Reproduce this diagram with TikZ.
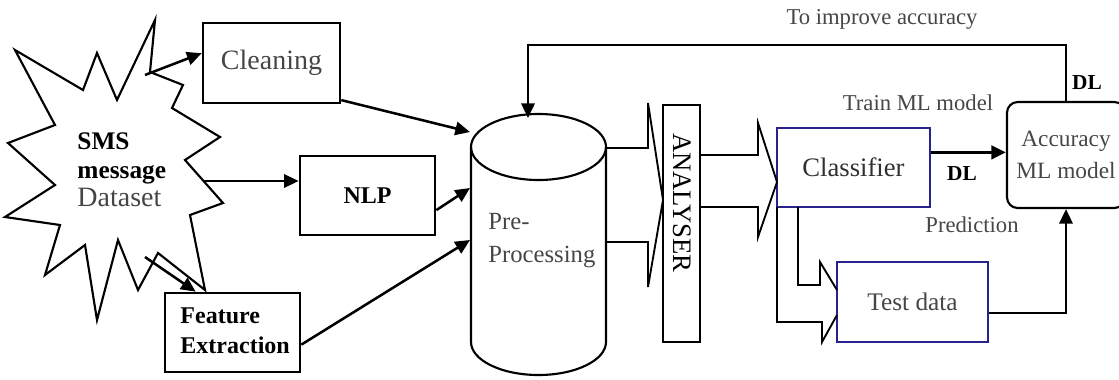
\documentclass[tikz,border=0pt]{standalone}
\usepackage{fontspec}
\setmainfont{Liberation Serif}
\usetikzlibrary{arrows.meta}

\definecolor{boxblue}{RGB}{40,35,140}
\definecolor{txtgray}{RGB}{70,70,70}

\tikzset{every picture/.style={line width=1.5pt}}
\tikzset{
  plainbox/.style={draw, line width=2pt, inner sep=0pt},
  bluebox/.style={draw=boxblue, line width=1.8pt, inner sep=0pt},
  arr/.style={-{Triangle[length=11pt,width=10pt]}, line width=1.9pt},
  blk/.style={line width=1.4pt, line join=miter},
}

\begin{document}
\begin{tikzpicture}[x=0.75pt,y=0.75pt,yscale=-1,xscale=1]
\useasboundingbox (0,0) rectangle (1119,379);

%Shape: Star [SMS dataset]
\draw [line width=1.6pt, line join=miter] (155,20) -- (150,72) -- (183,85) -- (172,108) -- (220,137) -- (185,160) -- (223,203) -- (190,215) -- (205,290) -- (158,253) -- (138,290) -- (118,240) -- (97,320) -- (85,245) -- (45,275) -- (60,225) -- (5,217) -- (55,185) -- (8,143) -- (55,125) -- (15,50) -- (83,90) -- (97,53) -- (117,100) -- cycle ;
% Text Node
\node (sms) [anchor=west, align=left, font=\fontsize{19}{21.4}\selectfont] at (72,170) {\textbf{SMS}\\\textbf{message}\\\textcolor{txtgray}{\fontsize{21}{21.4}\selectfont Dataset}};

%Shape: Rectangles
\node (clean) [plainbox, minimum width=102.75pt, minimum height=60pt, text=txtgray, font=\fontsize{21}{24}\selectfont] at (271.5,63) {Cleaning};
\node (nlp) [plainbox, minimum width=101.25pt, minimum height=59.25pt, font=\fontsize{18}{20}\selectfont\bfseries] at (367.5,195.5) {NLP};
\node (feat) [plainbox, minimum width=101.25pt, minimum height=59.25pt] at (232.5,332.5) {};
\node (featlbl) [anchor=west, align=left, font=\fontsize{18}{22.5}\selectfont\bfseries] at (175,331) {Feature\\Extraction};

%Shape: Cylinder [pre-processing]
\draw [line width=1.6pt] (471,147) .. controls (471,129) and (501,114) .. (538.5,114) .. controls (576,114) and (606,129) .. (606,147) .. controls (606,165) and (576,180) .. (538.5,180) .. controls (501,180) and (471,165) .. (471,147) -- cycle ;
\draw [line width=1.6pt] (471,147) -- (471,342) .. controls (471,360) and (501,375) .. (538.5,375) .. controls (576,375) and (606,360) .. (606,342) -- (606,147) ;
\node (pre) [anchor=west, align=left, text=txtgray, font=\fontsize{18.5}{24.75}\selectfont] at (483,241) {Pre-\\Processing};
\coordinate (pA) at (470,132);
\coordinate (pB) at (470,188);
\coordinate (pC) at (470,240);
\coordinate (pT) at (528,118);

%Shape: Analyser
\node (ana) [plainbox, line width=1.6pt, minimum width=27.75pt, minimum height=177.75pt] at (681.5,223.5) {};
\node (analbl) [rotate=-90, font=\fontsize{20}{22}\selectfont] at (682,203) {ANALYSER};

%Shape: Classifier, test data, accuracy
\node (clf) [bluebox, minimum width=114.75pt, minimum height=59.25pt, text=txtgray!70!black, font=\fontsize{20}{22}\selectfont] at (853.5,167.5) {Classifier};
\node (test) [bluebox, minimum width=113.25pt, minimum height=60pt, text=txtgray, font=\fontsize{19}{22}\selectfont] at (912.5,302) {Test data\hspace{12pt}};
\node (acc) [plainbox, line width=1.6pt, rounded corners=8pt, minimum width=88.5pt, minimum height=79.5pt, align=center, text=txtgray, font=\fontsize{17.5}{24}\selectfont] at (1066,155) {Accuracy\\ML model};

%Block Arrows
\draw [blk] (606,148) -- (648,148) -- (648,103) -- (663,200) -- (648,287) -- (648,242) -- (606,242) ;
\draw [blk] (700,155) -- (758,155) -- (758,123) -- (777,182) -- (758,237) -- (758,207) -- (700,207) ;
\draw [blk] (798,207) -- (798,285) -- (820,285) -- (820,262) -- (837,290) ;
\draw [blk] (777,207) -- (777,322) -- (822,322) -- (822,342) -- (837,315) ;

%Straight Lines
\coordinate (s1) at (145,75);
\coordinate (s2) at (203,181);
\coordinate (s3) at (145,257);
\draw [arr] (s1) -- (clean.172) ;
\draw [arr] (s2) -- (s2 -| nlp.west) ;
\draw [arr] (s3) -- ([xshift=24pt]feat.north west) ;
\draw [arr] (clean.-28) -- (pA) ;
\draw [arr] (nlp.-12) -- (pB) ;
\draw [arr] (feat.-10) -- (pC) ;
\draw [arr, line width=2.6pt] (clf.11) -- (clf.11 -| acc.west) ;
\draw [arr] (test.-8) -| (acc.south) ;
\coordinate (fb) at (800,45);
\draw [arr] (acc.north) |- (fb) -| (pT) ;

% Text Node
\node (imp) [text=txtgray, font=\fontsize{17}{20}\selectfont] at (882,19) {To improve accuracy};
\node (train) [text=txtgray, font=\fontsize{17}{20}\selectfont] at (918,103) {Train ML model};
\node (pred) [text=txtgray, font=\fontsize{17}{20}\selectfont] at (972,225) {Prediction};
\node (dl1) [font=\fontsize{16}{20}\selectfont\bfseries] at (962,174) {DL};
\node (dl2) [font=\fontsize{16}{20}\selectfont\bfseries] at (1087,83) {DL};

\end{tikzpicture}
\end{document}
